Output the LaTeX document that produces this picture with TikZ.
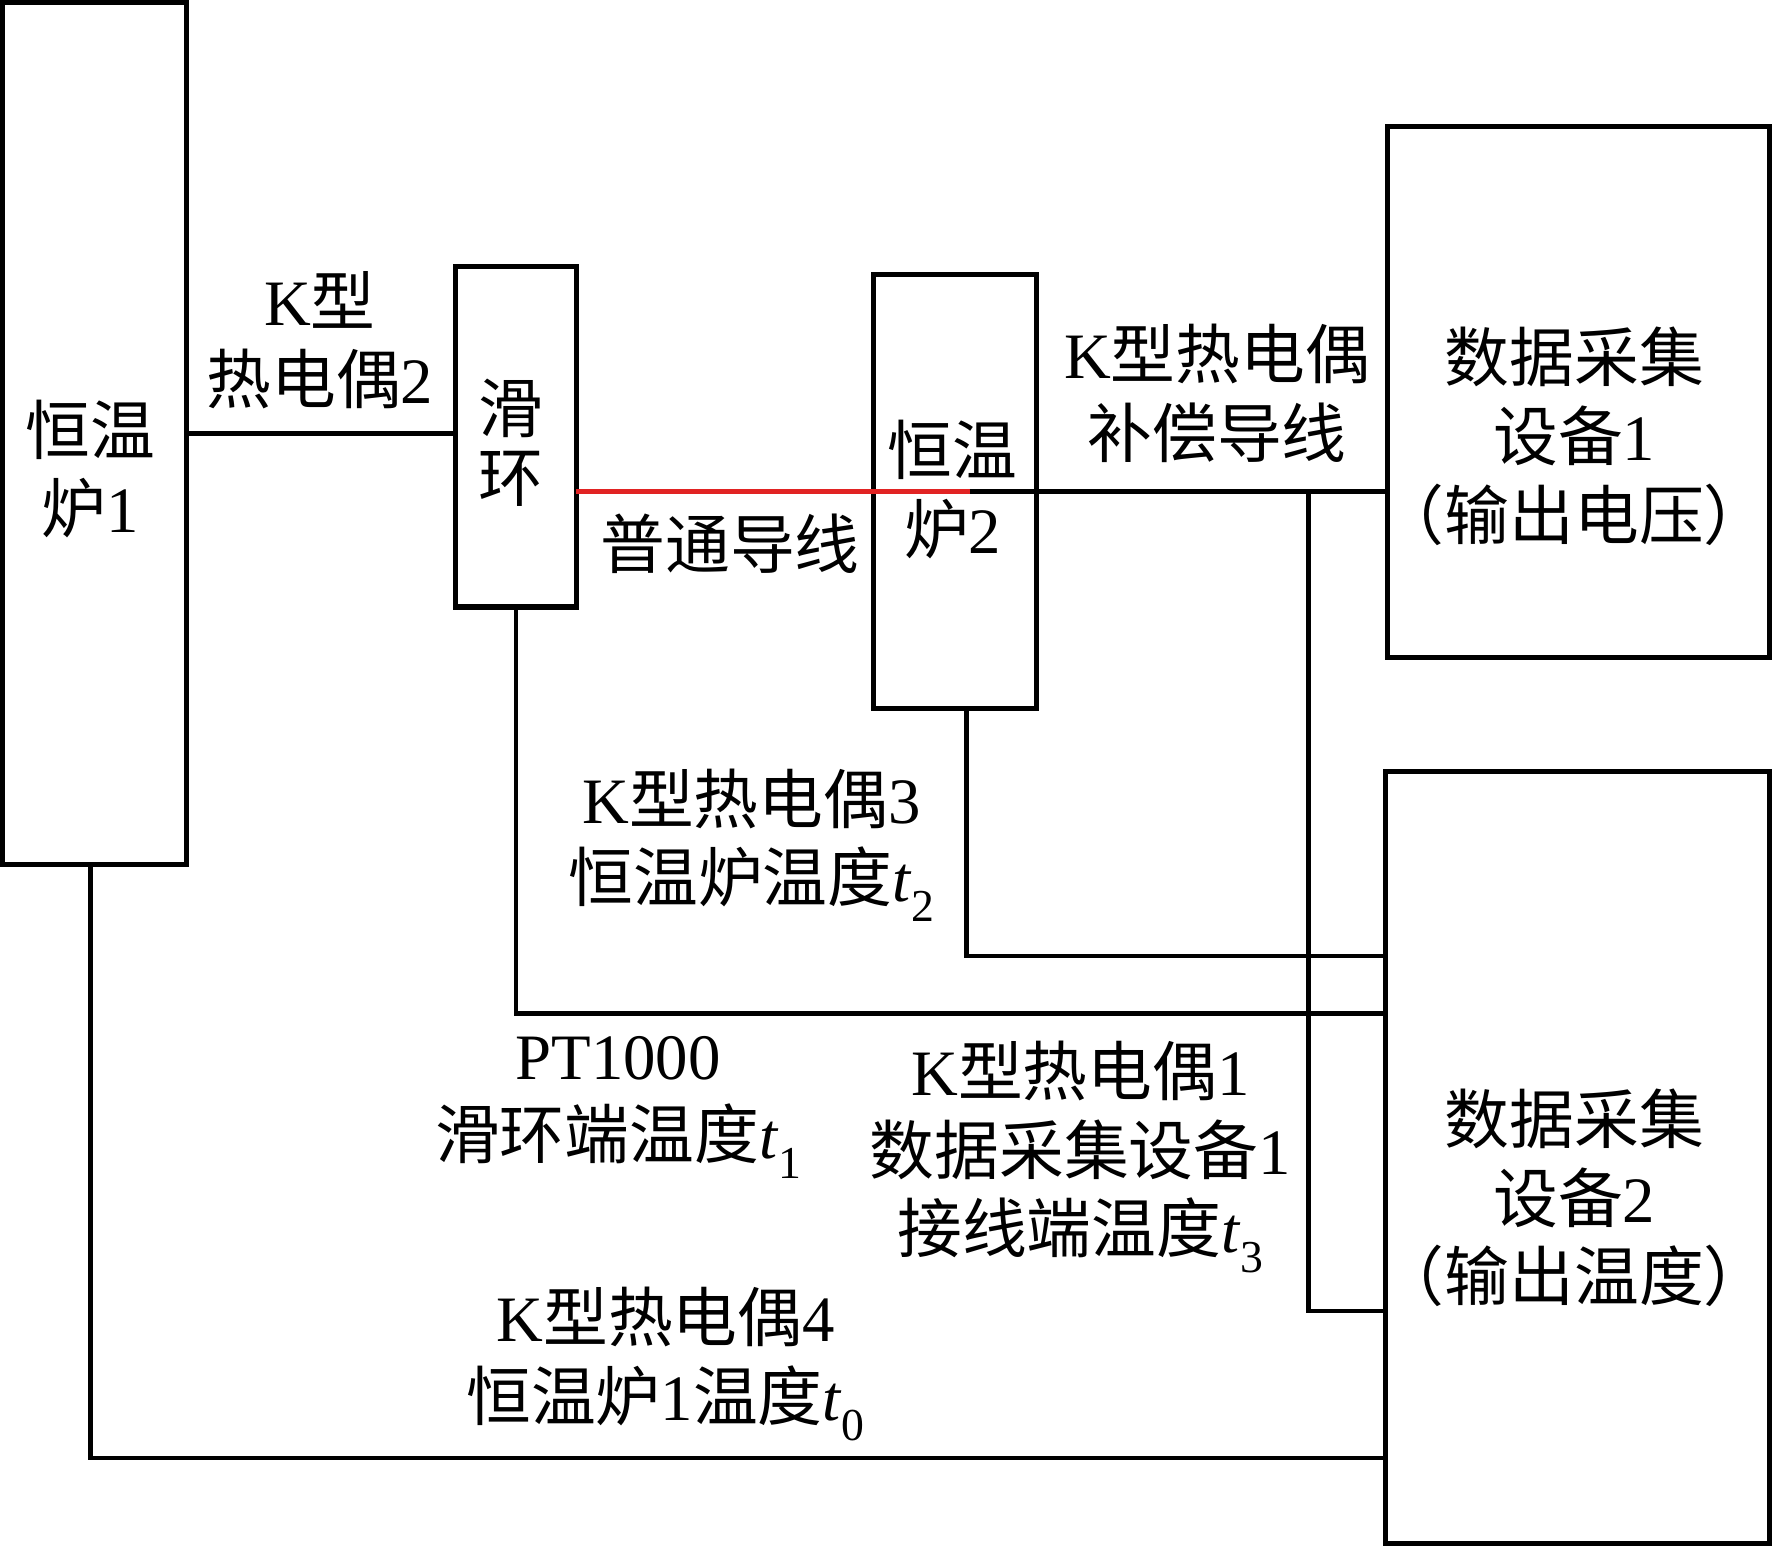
\documentclass[tikz,border=0pt]{standalone}
\usepackage{fontspec}
\setmainfont{Liberation Serif}
\newfontfamily\zhfont{Noto Sans CJK SC}
\newcommand{\zh}[1]{{\zhfont #1}}
\newcommand{\tsub}[1]{\textit{t}\raisebox{-5pt}{\fontsize{11.5}{12}\selectfont #1}}
\definecolor{wirered}{RGB}{225,35,35}

\begin{document}
\begin{tikzpicture}[x=0.01cm, y=-0.01cm,
    box/.style={draw, line width=1.3pt, inner sep=0pt, outer sep=0pt},
    wire/.style={line width=1.15pt},
    txt/.style={inner sep=0pt, align=center, font=\fontsize{16.3}{19.8}\selectfont}]
            \useasboundingbox (0,0) rectangle (1568,1368);

            % Furnaces and slip ring
            \node (furnA) at (83.5,383.5) [box, minimum width=1.63cm, minimum height=7.63cm] {};
            \node (ring) at (456.5,386.5) [box, minimum width=1.07cm, minimum height=3.01cm] {};
            \node (furnB) at (845,435) [box, minimum width=1.44cm, minimum height=3.84cm] {};

            % Data acquisition units
            \node (daqA) at (1397,347) [box, minimum width=3.38cm, minimum height=4.70cm] {};
            \node (daqB) at (1396,1024.5) [box, minimum width=3.40cm, minimum height=6.83cm] {};

            % Box texts
            \node (furnAtxt) at (80,415) [txt] {\zh{恒温}\\\zh{炉}1};
            \node (ringtxt) at (452,392) [txt] {\zh{滑}\\[-2.5pt]\zh{环}};
            \node (furnBtxt) at (843,433) [txt] {\zh{恒温}\\\zh{炉}2};
            \node (daqAtxt) at (1393,386) [txt] {\zh{数据采集}\\\zh{设备}1\\\zh{（输出电压）}};
            \node (daqBtxt) at (1393,1060) [txt] {\zh{数据采集}\\\zh{设备}2\\\zh{（输出温度）}};

            % Junctions
            \coordinate (redEnd) at (858,435);
            \coordinate (tapA) at (1158,435);
            \coordinate (jA) at (0,846);
            \coordinate (jB) at (0,897);
            \coordinate (jC) at (0,1160);
            \coordinate (jD) at (0,1290);

            % Wires on top
            \draw [wire] (furnA.east) -- (furnA.east -| ring.west);
            \draw [wire, wirered] (ring.east |- redEnd) -- (redEnd);
            \draw [wire] (redEnd) -- (redEnd -| daqA.west);

                % Wires to the second unit
                \draw [wire] ([xshift=0.1cm]furnB.south) |- (daqB.west |- jA);
                \draw [wire] (ring.south) |- (daqB.west |- jB);
                \draw [wire] (tapA) |- (daqB.west |- jC);
                \draw [wire] ([xshift=-0.035cm]furnA.south) |- (daqB.west |- jD);

            % Wire labels
            \node (lblK2) at (283,301) [txt] {K\zh{型}\\\zh{热电偶}2};
            \node (lblPlain) at (646,481) [txt] {\zh{普通导线}};
            \node (lblComp) at (1077,348) [txt] {K\zh{型热电偶}\\\zh{补偿导线}};
            \node (lblK3) at (665,748) [txt] {K\zh{型热电偶}3\\\zh{恒温炉温度}\tsub{2}};
            \node (lblPT) at (547,980) [txt] {PT1000\\\zh{滑环端温度}\tsub{1}};
            \node (lblK1) at (956,1024) [txt] {K\zh{型热电偶}1\\\zh{数据采集设备}1\\\zh{接线端温度}\tsub{3}};
            \node (lblK4) at (589,1207) [txt] {K\zh{型热电偶}4\\\zh{恒温炉}1\zh{温度}\tsub{0}};
        \end{tikzpicture}
\end{document}
